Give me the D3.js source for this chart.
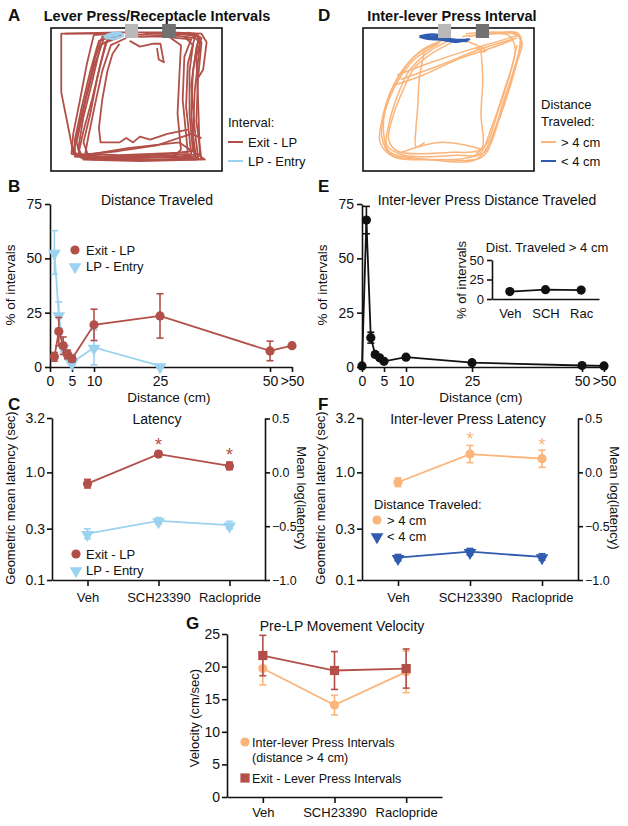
<!DOCTYPE html>
<html><head><meta charset="utf-8">
<script src="https://cdn.jsdelivr.net/npm/d3@7"></script>
<style>
body{margin:0;background:#fff}
text{font-family:"Liberation Sans",Arial,sans-serif;fill:#111}
</style></head>
<body><svg id="fig" width="628" height="826"></svg>
<script>
// ---------- colours ----------
const RED = "#b24f48", LBLUE = "#9ad2f0", ORANGE = "#fbb57a", DBLUE = "#2f5bb0";

// ---------- Panel A / D : tracking traces (relative box units 0-100) ----------
const leversA = [[43.3, 50.9, "#b9b9b9"], [65, 73, "#717171"]];
const leversD = [[43.9, 51.5, "#b9b9b9"], [66, 73.7, "#717171"]];
const tracesExitLP = [
  [[42,5],[30,6],[26,20],[21,45],[16,70],[13,86],[18,91],[50,91],[84,90],[82,60],[83,30],[86,9],[82,4],[60,4],[48,5]],
  [[40,6],[33,8],[29,25],[24,50],[19,72],[16,88],[30,90],[70,89],[82,88],[79,55],[80,25],[84,7],[70,5],[52,6]],
  [[38,5],[28,9],[23,30],[18,55],[14,78],[14,90],[45,92],[88,92],[85,65],[86,35],[88,10],[84,4],[55,4]],
  [[44,7],[35,12],[30,30],[26,52],[22,75],[20,88],[40,89],[80,87],[77,50],[78,20],[82,8],[65,6],[50,6]],
  [[36,4],[25,5],[21,25],[17,50],[13,74],[12,88],[25,92],[60,92],[86,91],[84,70],[82,40],[85,14],[87,6],[75,4]],
  [[41,6],[32,10],[27,35],[23,60],[19,80],[22,90],[55,90],[83,86],[81,60],[81,30],[83,12],[78,6]],
  [[39,5],[31,7],[25,28],[20,52],[15,80],[17,90],[35,91],[75,90],[87,88],[86,50],[85,20],[88,7],[80,3]],
  [[37,6],[29,12],[24,38],[19,62],[16,84],[19,92],[52,93],[85,92],[83,75],[84,45],[87,12],[86,5],[66,4]],
  [[34,4],[20,4],[6,4],[6,25],[6,45],[8,57],[11,75],[13,88],[30,92]],
  [[8,4],[40,3],[70,3],[88,4],[91,10],[89,29],[86,35]],
  [[46,9],[52,13],[60,11],[64,11],[66,24],[63,22],[62,14]],
  [[40,11],[36,18],[33,30],[30,50],[28,70],[29,80],[40,80],[44,77],[48,80],[52,76],[58,78],[68,74],[80,71]],
  [[15,90],[45,84],[75,80],[90,92],[60,88]],
  [[70,7],[76,12],[75,35],[74,60],[76,85],[72,90]],
  [[16,89],[40,86],[62,82],[82,74],[88,77]]
];
const tracesLPEntry = [
  [[31,6],[35,4],[40,3.5],[42,5],[39,7],[33,7],[31,6]],
  [[33,5.5],[40,5]]
];
const tracesFar = [
  [[48,8],[35,15],[24,28],[16,45],[11,65],[10,80],[18,90],[45,92],[70,90],[77,72],[85,45],[91,18],[91,4],[75,4],[58,6]],
  [[45,10],[32,18],[22,32],[14,52],[12,72],[15,86],[30,91],[60,91],[72,86],[80,62],[88,30],[93,10],[88,4],[65,5]],
  [[50,9],[38,17],[27,30],[20,48],[15,68],[14,82],[24,89],[55,89],[68,88],[75,70],[83,42],[89,15],[85,5],[62,6]],
  [[44,11],[30,22],[20,38],[13,58],[11,76],[16,88],[38,92],[66,92],[74,80],[82,52],[90,22],[92,6],[80,3],[60,4]],
  [[52,10],[40,18],[30,28],[24,42],[18,60],[15,78],[20,86],[50,87],[70,84],[79,58],[86,32],[90,12]],
  [[20,33],[40,24],[60,16],[80,9],[91,5]],
  [[22,36],[45,26],[68,15],[90,7]],
  [[18,40],[35,33],[55,22],[75,14],[88,8]],
  [[36,16],[33,35],[32,55],[31,70],[31,83],[36,80]],
  [[66,15],[68,14],[70,35],[69,60],[70,83],[66,88]],
  [[58,8],[70,14],[72,16],[68,17]],
  [[20,88],[45,80],[70,85]]
];
const tracesNear = [
  [[33,6],[40,4.5],[46,5.5],[52,8],[58,8.5],[62,8],[55,9.5],[45,8],[38,7.5],[33,6]],
  [[35,6],[44,6.5],[50,7.5]],
  [[52,8.5],[61,9]]
];

// ---------- Panel B ----------
const distX = [1, 2, 3, 4, 5, 10, 25, 50, 55];
const distTickVals = [0, 5, 10, 25, 50, 55];
const distTickLabels = ["0", "5", "10", "25", "50", ">50"];
const exitLPpct = [4.7, 16.3, 9.8, 5.8, 3.8, 19.4, 23.5, 7.4, 9.8];
const exitLPpctErr = [2, 6.5, 4, 2, 1.5, 7.2, 10.2, 4.5, 0];
const lpEntryX = [1, 2, 3, 4, 5, 10, 25];
const lpEntryPct = [52.7, 24, 9, 5, 2, 9, 0.5];
const lpEntryPctErr = [10, 6, 2, 1.5, 1, 8, 0.5];

// ---------- Panel E ----------
const interX = [0, 1, 2, 3, 4, 5, 10, 25, 50, 55];
const interPct = [0.5, 67.6, 13.5, 5.8, 4.2, 2.6, 4.5, 2, 0.7, 0.5];
const interPctErr = [0, 6.3, 2.5, 1, 0.8, 0.5, 0.6, 0.4, 0.2, 0];
const insetCats = ["Veh", "SCH", "Rac"];
const insetPct = [9.5, 12, 11.5];

// ---------- Panels C, F, G ----------
const drugs = ["Veh", "SCH23390", "Raclopride"];
const latExitLP = [-0.105, 0.17, 0.06];      // mean log10(latency)
const latExitLPErr = [0.04, 0.025, 0.035];
const latLPEntry = [-0.57, -0.45, -0.49];
const latLPEntryErr = [0.045, 0.03, 0.035];
const latFar = [-0.092, 0.17, 0.127];
const latFarErr = [0.04, 0.08, 0.08];
const latNear = [-0.793, -0.737, -0.786];
const latNearErr = [0.03, 0.03, 0.03];
const latLeftTicks = [0.1, 0.3, 1.0, 3.2];
const latRightTicks = [-1.0, -0.5, 0.0, 0.5];
const velFar = [19.7, 14.1, 19.2];
const velFarErr = [2.5, 1.5, 3.2];
const velExit = [21.7, 19.4, 19.7];
const velExitErr = [3.1, 2.9, 3.0];
const velTicks = [0, 5, 10, 15, 20, 25];

// =================== drawing ===================
const svg = d3.select("#fig");
svg.append("rect").attr("width", 628).attr("height", 826).attr("fill", "#fff");

function txt(x, y, s, o = {}) {
  const t = svg.append("text").attr("x", x).attr("y", y).text(s)
    .attr("font-size", o.size || 13).attr("text-anchor", o.anchor || "start");
  if (o.bold) t.attr("font-weight", "bold");
  if (o.fill) t.style("fill", o.fill);
  if (o.rot) t.attr("transform", `rotate(${o.rot},${x},${y})`);
  return t;
}
function styleAxis(g, size) {
  g.selectAll("path.domain").attr("stroke", "#111").attr("stroke-width", 1.6);
  g.selectAll(".tick line").attr("stroke", "#111").attr("stroke-width", 1.6);
  g.selectAll(".tick text").attr("font-size", size || 13)
    .attr("font-family", '"Liberation Sans",Arial,sans-serif').style("fill", "#111");
}
function marker(g, type, x, y, color, s = 1) {
  if (type === "circle") g.append("circle").attr("cx", x).attr("cy", y).attr("r", 4.6 * s).attr("fill", color);
  else if (type === "tri") g.append("path").attr("d", d3.symbol(d3.symbolTriangle, 70 * s)())
    .attr("transform", `translate(${x},${y + 1}) rotate(180)`).attr("fill", color);
  else g.append("rect").attr("x", x - 4.6 * s).attr("y", y - 4.6 * s).attr("width", 9.2 * s).attr("height", 9.2 * s).attr("fill", color);
}
function series(xs, ys, es, xS, yS, color, type, opts = {}) {
  const g = svg.append("g");
  const pts = xs.map((x, i) => [xS(x), yS(ys[i])]);
  g.append("path").attr("d", d3.line()(pts)).attr("fill", "none").attr("stroke", color).attr("stroke-width", opts.lw || 1.8);
  xs.forEach((x, i) => {
    if (es && es[i] > 0) {
      const X = xS(x), y1 = yS(ys[i] + es[i]), y2 = yS(ys[i] - es[i]);
      g.append("line").attr("x1", X).attr("x2", X).attr("y1", y1).attr("y2", y2).attr("stroke", color).attr("stroke-width", 1.6);
      [y1, y2].forEach(yy => g.append("line").attr("x1", X - 3.5).attr("x2", X + 3.5).attr("y1", yy).attr("y2", yy).attr("stroke", color).attr("stroke-width", 1.6));
    }
    marker(g, type, xS(x), yS(ys[i]), color, opts.ms || 1);
  });
}

// ---------- Panel letters ----------
[["A",8,21],["D",318,21],["B",8,192],["E",318,192],["C",8,410],["F",318,410],["G",186,629]]
  .forEach(([l,x,y]) => txt(x, y, l, {size: 17, bold: true}));

// ---------- Panels A & D ----------
function trackPanel(x0, title, titleX, levers, groups) {
  const bx = d3.scaleLinear().domain([0, 100]).range([x0, x0 + 171]);
  const by = d3.scaleLinear().domain([0, 100]).range([28, 171]);
  txt(titleX, 21, title, {size: 14.5, bold: true, anchor: "middle"});
  groups.forEach(([traces, color, w, curve]) => {
    const line = d3.line().x(d => bx(d[0])).y(d => by(d[1])).curve(curve);
    traces.forEach(t =>
      svg.append("path").attr("d", line(t)).attr("fill", "none").attr("stroke", color).attr("stroke-width", w).attr("stroke-linejoin", "round"));
  });
  svg.append("rect").attr("x", bx(0)).attr("y", by(0)).attr("width", bx(100) - bx(0)).attr("height", by(100) - by(0))
    .attr("fill", "none").attr("stroke", "#111").attr("stroke-width", 1.6);
  levers.forEach(([a, b, c]) => svg.append("rect").attr("x", bx(a)).attr("y", 24).attr("width", bx(b) - bx(a)).attr("height", 14).attr("fill", c));
}
trackPanel(51, "Lever Press/Receptacle Intervals", 157, leversA,
  [[tracesExitLP, RED, 1.8, d3.curveLinear], [tracesLPEntry, LBLUE, 2.6, d3.curveCatmullRom]]);
trackPanel(363, "Inter-lever Press Interval", 452, leversD,
  [[tracesFar, ORANGE, 1.5, d3.curveCatmullRom.alpha(0.5)], [tracesNear, DBLUE, 2.6, d3.curveCatmullRom.alpha(0.5)]]);

// legends A / D
txt(228, 127, "Interval:", {size: 13});
[[RED, "Exit - LP", 142], [LBLUE, "LP - Entry", 161]].forEach(([c, s, y]) => {
  svg.append("line").attr("x1", 228).attr("x2", 243).attr("y1", y).attr("y2", y).attr("stroke", c).attr("stroke-width", 2);
  txt(248, y + 5, s, {size: 13});
});
txt(541, 109, "Distance", {size: 13});
txt(541, 126, "Traveled:", {size: 13});
[[ORANGE, "> 4 cm", 142], [DBLUE, "< 4 cm", 161]].forEach(([c, s, y]) => {
  svg.append("line").attr("x1", 541).attr("x2", 556).attr("y1", y).attr("y2", y).attr("stroke", c).attr("stroke-width", 2);
  txt(561, y + 5, s, {size: 13});
});

// ---------- Panel B ----------
const xB = d3.scaleLinear().domain([0, 55]).range([50, 292]);
const yB = d3.scaleLinear().domain([0, 75]).range([367, 204]);
function distAxes(xS, yS, x0, titleX, title) {
  const ya = svg.append("g").attr("transform", `translate(${x0},0)`)
    .call(d3.axisLeft(yS).tickValues([0, 25, 50, 75]).tickSize(5).tickSizeOuter(0).tickPadding(3));
  styleAxis(ya, 14);
  const xa = svg.append("g").attr("transform", `translate(0,367)`)
    .call(d3.axisBottom(xS).tickValues(distTickVals).tickFormat((d, i) => distTickLabels[i]).tickSize(5).tickSizeOuter(0).tickPadding(4));
  styleAxis(xa, 14);
  txt(titleX, 205, title, {size: 14, anchor: "middle"});
  txt(x0 - 35, 285, "% of intervals", {size: 13.5, anchor: "middle", rot: -90});
  txt(xS(27), 402, "Distance (cm)", {size: 13.5, anchor: "middle"});
}
distAxes(xB, yB, 50, 157, "Distance Traveled");
series(lpEntryX, lpEntryPct, lpEntryPctErr, xB, yB, LBLUE, "tri");
series(distX, exitLPpct, exitLPpctErr, xB, yB, RED, "circle");
marker(svg, "circle", 75, 250, RED);
txt(86, 255, "Exit - LP", {size: 13});
marker(svg, "tri", 75, 266, LBLUE);
txt(86, 271, "LP - Entry", {size: 13});

// ---------- Panel E ----------
const xE = d3.scaleLinear().domain([0, 55]).range([362, 604]);
const yE = yB;
distAxes(xE, yE, 362, 487, "Inter-lever Press Distance Traveled");
series(interX, interPct, interPctErr, xE, yE, "#111", "circle");
// inset
const xI = d3.scalePoint().domain(insetCats).range([492, 599]).padding(0.5);
const yI = d3.scaleLinear().domain([0, 50]).range([299, 260]);
const ia = svg.append("g").attr("transform", "translate(492,0)")
  .call(d3.axisLeft(yI).tickValues([0, 25, 50]).tickSize(5).tickSizeOuter(0).tickPadding(3));
styleAxis(ia, 13);
const ib = svg.append("g").attr("transform", "translate(0,299)")
  .call(d3.axisBottom(xI).tickSize(0).tickSizeOuter(0).tickPadding(10));
styleAxis(ib, 13);
txt(547, 252, "Dist. Traveled > 4 cm", {size: 13, anchor: "middle"});
txt(466, 280, "% of intervals", {size: 13, anchor: "middle", rot: -90});
series(insetCats, insetPct, null, xI, yI, "#111", "circle");

// ---------- Panels C & F ----------
function latPanel(x0, x1, title, titleX) {
  const xS = d3.scalePoint().domain(drugs).range([x0, x1]).padding(0.5);
  const yS = d3.scaleLinear().domain([-1, Math.log10(3.2)]).range([580, 418]);
  const yLog = d3.scaleLog().domain([0.1, 3.2]).range([580, 418]);
  const la = svg.append("g").attr("transform", `translate(${x0},0)`)
    .call(d3.axisLeft(yLog).tickValues(latLeftTicks).tickFormat(d3.format(".1f")).tickSize(5).tickSizeOuter(0).tickPadding(2));
  styleAxis(la, 14);
  const ra = svg.append("g").attr("transform", `translate(${x1},0)`)
    .call(d3.axisRight(yS).tickValues(latRightTicks).tickFormat(d3.format(".1f")).tickSize(5).tickSizeOuter(0).tickPadding(2));
  styleAxis(ra, 12.5);
  const ba = svg.append("g").attr("transform", "translate(0,580)")
    .call(d3.axisBottom(xS).tickSize(6).tickSizeOuter(0).tickPadding(7));
  styleAxis(ba, 13);
  txt(titleX, 424, title, {size: 14, anchor: "middle"});
  txt(x0 - 37, 498, "Geometric mean latency (sec)", {size: 13, anchor: "middle", rot: -90});
  txt(x1 + 32, 498, "Mean log(latency)", {size: 13, anchor: "middle", rot: 90});
  return [xS, yS];
}
const [xC, yC] = latPanel(52, 265, "Latency", 157);
series(drugs, latLPEntry, latLPEntryErr, xC, yC, LBLUE, "tri");
series(drugs, latExitLP, latExitLPErr, xC, yC, RED, "circle");
txt(xC("SCH23390"), 451, "*", {size: 18, anchor: "middle", fill: RED});
txt(xC("Raclopride"), 461, "*", {size: 18, anchor: "middle", fill: RED});
marker(svg, "circle", 76, 554, RED);
txt(86, 559, "Exit - LP", {size: 13});
marker(svg, "tri", 76, 570, LBLUE);
txt(86, 575, "LP - Entry", {size: 13});

const [xF, yF] = latPanel(362, 578, "Inter-lever Press Latency", 468);
series(drugs, latNear, latNearErr, xF, yF, DBLUE, "tri");
series(drugs, latFar, latFarErr, xF, yF, ORANGE, "circle");
txt(xF("SCH23390"), 445, "*", {size: 18, anchor: "middle", fill: ORANGE});
txt(xF("Raclopride"), 451, "*", {size: 18, anchor: "middle", fill: ORANGE});
txt(374, 509, "Distance Traveled:", {size: 13});
marker(svg, "circle", 377, 520, ORANGE);
txt(387, 525, "> 4 cm", {size: 13});
marker(svg, "tri", 377, 536, DBLUE);
txt(387, 541, "< 4 cm", {size: 13});

// ---------- Panel G ----------
const xG = d3.scalePoint().domain(drugs).range([227, 442]).padding(0.5);
const yG = d3.scaleLinear().domain([0, 25]).range([797, 634]);
const ga = svg.append("g").attr("transform", "translate(227,0)")
  .call(d3.axisLeft(yG).tickValues(velTicks).tickSize(5).tickSizeOuter(0).tickPadding(2));
styleAxis(ga, 14);
const gb = svg.append("g").attr("transform", "translate(0,797)")
  .call(d3.axisBottom(xG).tickSize(6).tickSizeOuter(0).tickPadding(5));
styleAxis(gb, 13);
txt(342, 631, "Pre-LP Movement Velocity", {size: 14, anchor: "middle"});
txt(199, 718, "Velocity (cm/sec)", {size: 13, anchor: "middle", rot: -90});
series(drugs, velFar, velFarErr, xG, yG, ORANGE, "circle");
series(drugs, velExit, velExitErr, xG, yG, RED, "square");
marker(svg, "circle", 245, 742, ORANGE);
txt(252, 747, "Inter-lever Press Intervals", {size: 12.5});
txt(252, 762, "(distance > 4 cm)", {size: 12.5});
marker(svg, "square", 245, 778, RED);
txt(252, 783, "Exit - Lever Press Intervals", {size: 12.5});
</script></body></html>
